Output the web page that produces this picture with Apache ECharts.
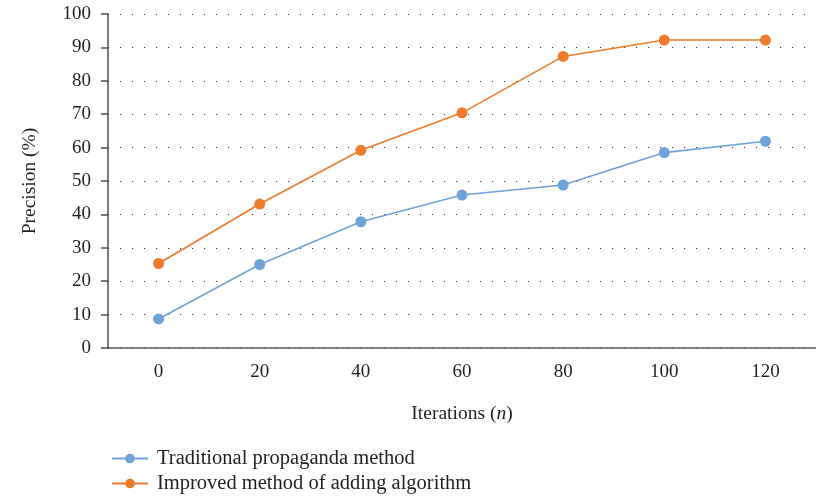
<!DOCTYPE html>
<html>
<head>
<meta charset="utf-8">
<script src="https://cdn.jsdelivr.net/npm/echarts@6/dist/echarts.min.js"></script>
<style>
  html, body { margin: 0; padding: 0; background: #fff; }
  #chart { width: 816px; height: 498px; }
</style>
</head>
<body>
<div id="chart"></div>
<script>
// Iteration counts on the horizontal axis
const iterations = ['0', '20', '40', '60', '80', '100', '120'];
// Precision (%) for each method
const traditional = [8.7, 25.0, 37.8, 45.8, 48.8, 58.5, 61.9];
const improved = [25.3, 43.1, 59.2, 70.4, 87.3, 92.2, 92.2];
const seriesNames = ['Traditional propaganda method', 'Improved method of adding algorithm'];

const serif = '"Liberation Serif", "DejaVu Serif", serif';
const axisColor = '#595959';
const textColor = '#231f20';

// one legend row per series, stacked under the plot
function legendRow(name, top) {
  return {
    orient: 'horizontal',
    left: 106,
    top: top,
    itemWidth: 36,
    itemHeight: 12,
    textStyle: { fontFamily: serif, fontSize: 20.5, color: textColor, padding: [0, 0, 0, 4] },
    data: [name]
  };
}

const chart = echarts.init(document.getElementById('chart'), null, { renderer: 'canvas' });

chart.setOption({
  animation: false,
  backgroundColor: '#ffffff',
  textStyle: { fontFamily: serif, color: textColor },
  grid: { left: 108, top: 14, width: 713, height: 334, containLabel: false },
  legend: [legendRow(seriesNames[0], 443), legendRow(seriesNames[1], 468)],
  xAxis: {
    type: 'category',
    data: iterations,
    boundaryGap: true,
    name: 'Iterations ({i|n})',
    nameLocation: 'middle',
    nameGap: 56,
    nameTextStyle: {
      fontFamily: serif, fontSize: 19.5, color: textColor,
      rich: { i: { fontStyle: 'italic', fontFamily: serif, fontSize: 19.5, color: textColor } }
    },
    axisLine: { lineStyle: { color: axisColor, width: 1.6 } },
    axisTick: { alignWithLabel: true, length: 7, lineStyle: { color: axisColor, width: 1.6 } },
    axisLabel: { fontFamily: serif, fontSize: 19, color: textColor, margin: 15 },
    splitLine: { show: false }
  },
  yAxis: {
    type: 'value',
    min: 0,
    max: 100,
    interval: 10,
    name: 'Precision (%)',
    nameLocation: 'middle',
    nameGap: 68,
    nameRotate: 90,
    nameTextStyle: { fontFamily: serif, fontSize: 19.5, color: textColor },
    axisLine: { show: true, lineStyle: { color: axisColor, width: 1.6 } },
    axisTick: { show: true, length: 7, lineStyle: { color: axisColor, width: 1.6 } },
    axisLabel: { fontFamily: serif, fontSize: 19, color: textColor, margin: 17 },
    splitLine: {
      show: true,
      lineStyle: { color: '#3a3a3a', width: 1.2, type: [1.2, 10.8] }
    }
  },
  series: [
    {
      name: seriesNames[0],
      type: 'line',
      data: traditional,
      symbol: 'circle',
      symbolSize: 11,
      itemStyle: { color: '#6fa3d8' },
      lineStyle: { color: '#6fa3d8', width: 1.6 },
      z: 3
    },
    {
      name: seriesNames[1],
      type: 'line',
      data: improved,
      symbol: 'circle',
      symbolSize: 11,
      itemStyle: { color: '#ee7b2b' },
      lineStyle: { color: '#ee7b2b', width: 1.6 },
      z: 4
    }
  ]
});
</script>
</body>
</html>
